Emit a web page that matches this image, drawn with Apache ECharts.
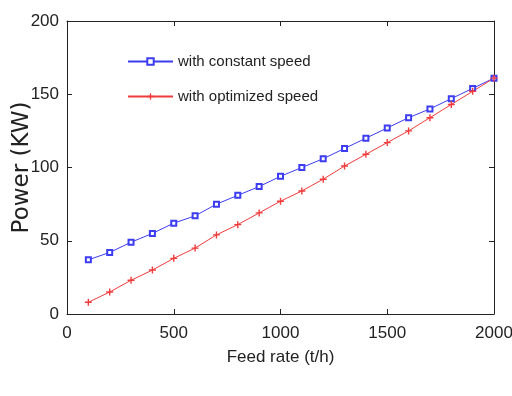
<!DOCTYPE html>
<html>
<head>
<meta charset="utf-8">
<script src="https://cdn.jsdelivr.net/npm/echarts@6/dist/echarts.min.js"></script>
<style>
  html, body { margin: 0; padding: 0; background: #fff; }
  #chart { width: 512px; height: 396px; }
</style>
</head>
<body>
<div id="chart"></div>
<script>
// Feed rate (t/h)
const feedRate = [100, 200, 300, 400, 500, 600, 700, 800, 900, 1000,
  1100, 1200, 1300, 1400, 1500, 1600, 1700, 1800, 1900, 2000];
// Power (KW)
const constantSpeed = [37, 42, 49, 55, 62, 67, 75, 81, 87, 94,
  100, 106, 113, 120, 127, 134, 140, 147, 154, 161];
const optimizedSpeed = [8, 15, 23, 30, 38, 45, 54, 61, 69, 77,
  84, 92, 101, 109, 117, 125, 134, 143, 152, 161];

const seriesNames = ['with constant speed', 'with optimized speed'];

const sans = '"Liberation Sans", Arial, sans-serif';
const plusIcon = 'path://M4,0H6V4H10V6H6V10H4V6H0V4H4Z';

const chart = echarts.init(document.getElementById('chart'));

// MATLAB-like box: axis lines on all four sides, ticks pointing inwards
const frameAxis = {
  axisLine: { show: true, onZero: false, lineStyle: { color: '#222', width: 1 } },
  axisTick: { show: true, inside: true, length: 5, lineStyle: { color: '#222' } },
  splitLine: { show: false }
};

chart.setOption({
  animation: false,
  backgroundColor: '#fff',
  grid: { left: 67, right: 18, top: 21, bottom: 82, outerBoundsMode: 'none' },
  legend: {
    orient: 'vertical',
    left: 122,
    top: 49,
    itemGap: 20,
    itemWidth: 45,
    itemHeight: 8,
    textStyle: { fontFamily: sans, fontSize: 15, color: '#222' },
    data: seriesNames
  },
  xAxis: [
    Object.assign({
      type: 'value',
      min: 0, max: 2000, interval: 500,
      name: 'Feed rate (t/h)',
      nameLocation: 'middle',
      nameGap: 35,
      nameTextStyle: { fontFamily: sans, fontSize: 17, color: '#222' },
      axisLabel: { fontFamily: sans, fontSize: 17, color: '#222', margin: 11,
        formatter: v => String(v) }
    }, frameAxis),
    Object.assign({
      type: 'value', position: 'top',
      min: 0, max: 2000, interval: 500,
      axisLabel: { show: false }
    }, frameAxis)
  ],
  yAxis: [
    Object.assign({
      type: 'value',
      min: 0, max: 200, interval: 50,
      name: 'Power (KW)',
      nameLocation: 'middle',
      nameGap: 33,
      nameMoveOverlap: false,
      nameTextStyle: { fontFamily: '"DejaVu Sans", sans-serif', fontSize: 23, color: '#222' },
      axisLabel: { fontFamily: sans, fontSize: 17, color: '#222', margin: 8,
        formatter: v => String(v) }
    }, frameAxis),
    Object.assign({
      type: 'value', position: 'right',
      min: 0, max: 200, interval: 50,
      axisLabel: { show: false }
    }, frameAxis)
  ],
  series: [
    {
      name: seriesNames[0],
      type: 'line',
      data: feedRate.map((x, i) => [x, constantSpeed[i]]),
      symbol: 'emptyRect',
      symbolSize: 5,
      lineStyle: { color: '#3c3cf0', width: 1 },
      itemStyle: { color: '#3c3cf0', borderColor: '#3c3cf0', borderWidth: 1 }
    },
    {
      name: seriesNames[1],
      type: 'line',
      data: feedRate.map((x, i) => [x, optimizedSpeed[i]]),
      symbol: plusIcon,
      symbolSize: 7,
      lineStyle: { color: '#f03c3c', width: 1 },
      itemStyle: { color: '#f03c3c' }
    }
  ]
});
</script>
</body>
</html>
